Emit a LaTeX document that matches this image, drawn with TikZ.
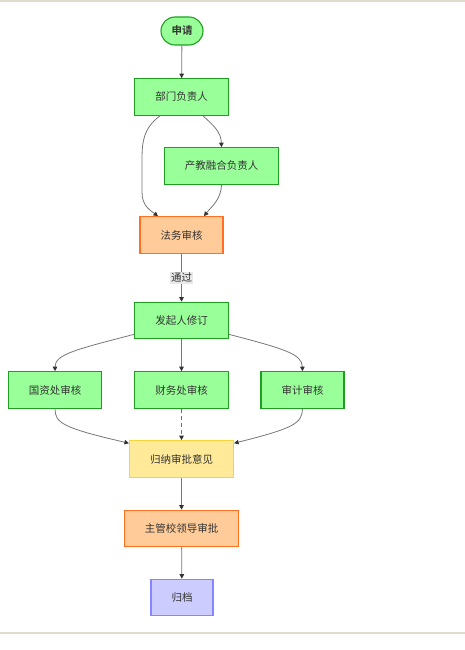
\documentclass[tikz,border=0pt]{standalone}
\usepackage{fontspec}
\setmainfont{Noto Sans CJK SC}[BoldFont={Noto Sans CJK SC Bold}]
\usetikzlibrary{arrows.meta}
\definecolor{boxgreen}{HTML}{99FF99}
\definecolor{linegreen}{HTML}{1F9F1F}
\definecolor{boxorange}{HTML}{FFCC99}
\definecolor{lineorange}{HTML}{FF7020}
\definecolor{boxyellow}{HTML}{FFEA99}
\definecolor{lineyellow}{HTML}{F8D438}
\definecolor{boxblue}{HTML}{CCCCFF}
\definecolor{lineblue}{HTML}{8585FF}
\definecolor{edgegrey}{HTML}{777777}
\definecolor{dashred}{HTML}{FF3333}
\definecolor{tipgrey}{HTML}{333333}
\definecolor{rulecol}{HTML}{E2DCCF}
\begin{document}
\begin{tikzpicture}[x=1pt,y=1pt,
    font=\fontsize{10.5}{12}\selectfont, text=black!80,
    stepbox/.style={rectangle, inner xsep=20.5pt, inner ysep=0pt,
        minimum height=36.5pt, line width=1.1pt},
    greenbox/.style={stepbox, fill=boxgreen, draw=linegreen},
    orangebox/.style={stepbox, fill=boxorange, draw=lineorange},
    yellowbox/.style={stepbox, fill=boxyellow, draw=lineyellow},
    bluebox/.style={stepbox, fill=boxblue, draw=lineblue},
    flow/.style={draw=edgegrey, line width=0.8pt,
        -{Triangle[length=4.5pt,width=4.5pt,fill=tipgrey,color=tipgrey]}}]
    \useasboundingbox (0,0) rectangle (465,-650);
    %% page rules
    \draw[rulecol, line width=1.5pt] (0,-0.8) -- (465,-0.8);
    \draw[rulecol, line width=1.5pt] (0,-633) -- (465,-633);
    %% steps
    \node[greenbox, rounded corners=14pt, inner xsep=10.5pt, minimum height=28pt,
        font=\fontsize{10.5}{12}\selectfont\bfseries] (sq) at (182,-31) {申请};
    \node[greenbox] (bm) at (181.5,-97) {部门负责人};
    \node[greenbox] (cj) at (221.5,-166) {产教融合负责人};
    \node[orangebox] (fw) at (181.5,-235) {法务审核};
    \node[greenbox] (fq) at (181.5,-320.5) {发起人修订};
    \node[greenbox] (gz) at (55,-390) {国资处审核};
    \node[greenbox] (cw) at (181.5,-390) {财务处审核};
    \node[greenbox] (sj) at (302.5,-390) {审计审核};
    \node[yellowbox] (gn) at (181.5,-459) {归纳审批意见};
    \node[orangebox] (zg) at (181.5,-528.5) {主管校领导审批};
    \node[bluebox] (gd) at (182,-597.5) {归档};
    %% connectors
    \draw[flow] (sq) -- (bm);
    \draw[flow] ([xshift=-21.5pt]bm.south) .. controls (144,-128) and (142,-140) .. (142,-160)
        -- (142,-192) .. controls (142,-206) and (150,-210) .. ([xshift=-23.5pt]fw.north);
    \draw[flow] ([xshift=21.5pt]bm.south) .. controls (214,-126) and (221,-132) .. (cj.north);
    \draw[flow] (cj.south) .. controls (221,-200) and (211,-207) .. ([xshift=22.5pt]fw.north);
    \draw[flow] (fw) -- node[fill=black!9, inner sep=1pt] (tg) {通过} (fq);
    \draw[flow] ([yshift=5pt]fq.south west) .. controls (78,-349) and (55,-354) .. (gz.north);
    \draw[flow] (fq) -- (cw);
    \draw[flow] ([yshift=5pt]fq.south east) .. controls (285,-349) and (302,-354) .. (sj.north);
    \draw[flow] (gz.south) .. controls (55,-423) and (63,-428) .. ([yshift=-3pt]gn.north west);
    \draw[flow, draw=dashred, line width=1pt, dash pattern=on 4pt off 3pt] (cw) -- (gn);
    \draw[flow] (sj.south) .. controls (302,-423) and (295,-428) .. ([yshift=-3pt]gn.north east);
    \draw[flow] (gn) -- (zg);
    \draw[flow] (zg) -- (gd);
\end{tikzpicture}
\end{document}
